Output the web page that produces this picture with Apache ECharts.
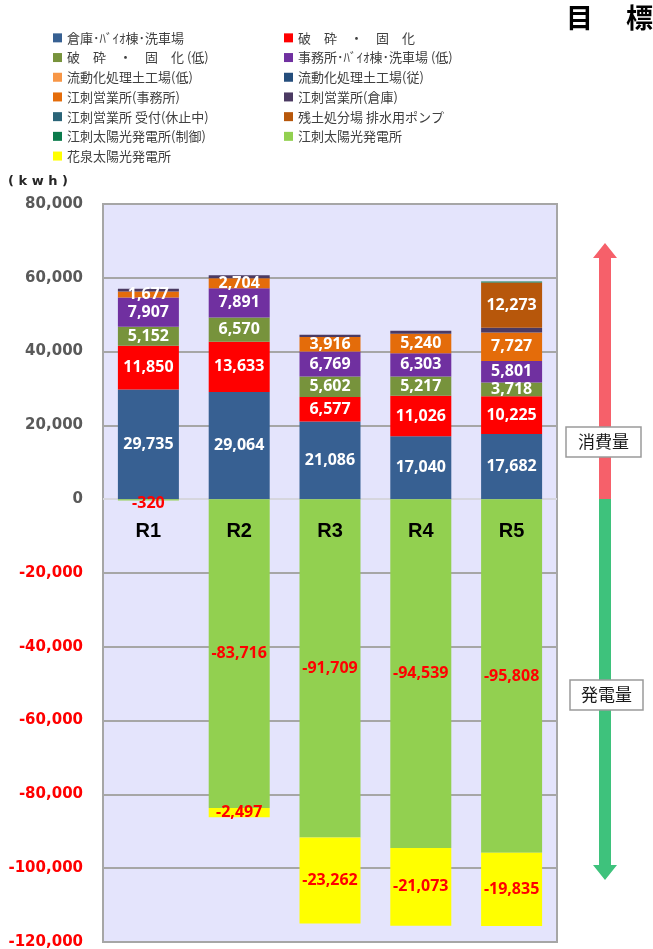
<!DOCTYPE html>
<html>
<head>
<meta charset="utf-8">
<script src="https://cdn.jsdelivr.net/npm/echarts@6/dist/echarts.min.js"></script>
<style>
  html, body { margin: 0; padding: 0; background: #fff; }
  #chart { width: 653px; height: 949px; }
</style>
</head>
<body>
<div id="chart"></div>
<script>
// 年度
var categories = ['R1', 'R2', 'R3', 'R4', 'R5'];

// 系列名 (凡例の順)
var seriesNames = [
  '倉庫･ﾊﾞｲｵ棟･洗車場', '破　砕　・　固　化',
  '破　砕　・　固　化 (低)', '事務所･ﾊﾞｲｵ棟･洗車場 (低)',
  '流動化処理土工場(低)', '流動化処理土工場(従)',
  '江刺営業所(事務所)', '江刺営業所(倉庫)',
  '江刺営業所 受付(休止中)', '残土処分場 排水用ポンプ',
  '江刺太陽光発電所(制御)', '江刺太陽光発電所',
  '花泉太陽光発電所'
];

// 消費量 (kwh)
var souko      = [29735, 29064, 21086, 17040, 17682];
var hasai      = [11850, 13633, 6577, 11026, 10225];
var hasaiLow   = [5152, 6570, 5602, 5217, 3718];
var jimushoLow = [7907, 7891, 6769, 6303, 5801];
var ryudoLow   = [0, 0, 0, 0, 0];
var ryudoJu    = [0, 0, 0, 0, 0];
var esashiJim  = [1677, 2704, 3916, 5240, 7727];
var esashiSou  = [700, 800, 650, 850, 1300];
var uketsuke   = [0, 0, 0, 0, 0];
var pump       = [0, 0, 0, 0, 12273];
var seigyo     = [0, 0, 0, 0, 250];
// 発電量 (kwh)
var esashiPV   = [-320, -83716, -91709, -94539, -95808];
var hanaizumiPV = [0, -2497, -23262, -21073, -19835];

// y軸
var yMin = -120000, yMax = 80000, yStep = 20000;

var seriesData = [souko, hasai, hasaiLow, jimushoLow, ryudoLow, ryudoJu,
  esashiJim, esashiSou, uketsuke, pump, seigyo, esashiPV, hanaizumiPV];

var colors = ['#376092', '#ff0000', '#77933c', '#7030a0', '#f79646', '#254e7c',
  '#e46c0a', '#4b3a62', '#2a6478', '#b7570b', '#0b7b4c', '#92d050', '#ffff00'];

// ラベルを出す系列
var labelShow = [true, true, true, true, false, false, true, false, false, true, false, true, true];

var gridTop = 204, gridBottom = 942;

var myChart = echarts.init(document.getElementById('chart'));

var series = [];
for (var i = 0; i < seriesData.length; i++) {
  var neg = i >= 11;
  // 小さい値のラベルは棒の下にずらす
  var items = seriesData[i].map(function(v) {
    if (v < 0 && v > -1000) return { value: v, label: { offset: [0, 4] } };
    return v;
  });
  series.push({
    name: seriesNames[i],
    type: 'bar',
    stack: 'total',
    barWidth: 61,
    data: items,
    itemStyle: { color: colors[i] },
    label: {
      show: labelShow[i],
      position: 'inside',
      color: neg ? '#ff0000' : '#ffffff',
      fontFamily: 'Noto Sans',
      fontWeight: 'bold',
      fontSize: 16,
      formatter: function(p) {
        if (!p.value) return '';
        return p.value.toLocaleString('en-US');
      }
    }
  });
}

var leftNames = [], rightNames = [];
for (var k = 0; k < seriesNames.length; k++) {
  if (k % 2 == 0) leftNames.push(seriesNames[k]); else rightNames.push(seriesNames[k]);
}

var legendText = {
  color: '#404040',
  fontSize: 13,
  fontFamily: 'Noto Sans CJK JP',
  lineHeight: 19.7
};

// ゼロ線の位置 (カテゴリ軸ラベル用)
var zeroOffset = (gridBottom - gridTop) * (0 - yMin) / (yMax - yMin);

// 目盛線の色 (0 の線だけ薄く)
var splitColors = [];
for (var t = yMin; t <= yMax; t += yStep) {
  splitColors.push(t == 0 ? '#d6d6de' : '#a6a6a6');
}

var option = {
  animation: false,
  backgroundColor: '#ffffff',
  legend: [
    {
      data: leftNames, orient: 'vertical', left: 48, top: 23,
      itemWidth: 9, itemHeight: 9, itemGap: 0, icon: 'rect',
      textStyle: legendText, selectedMode: false
    },
    {
      data: rightNames, orient: 'vertical', left: 279, top: 23,
      itemWidth: 9, itemHeight: 9, itemGap: 0, icon: 'rect',
      textStyle: legendText, selectedMode: false
    }
  ],
  grid: {
    left: 103, right: 96, top: gridTop, bottom: 949 - gridBottom,
    outerBoundsMode: 'none',
    containLabel: false,
    show: true,
    backgroundColor: '#e4e4fc',
    borderColor: '#a6a6a6',
    borderWidth: 2
  },
  xAxis: {
    type: 'category',
    data: categories,
    z: 10,
    position: 'bottom',
    offset: -zeroOffset,
    axisLine: { show: false, onZero: false },
    axisTick: { show: false },
    axisLabel: {
      margin: 22,
      color: '#000000',
      fontFamily: 'Liberation Sans',
      fontWeight: 'bold',
      fontSize: 20
    }
  },
  yAxis: {
    type: 'value',
    min: yMin,
    max: yMax,
    interval: yStep,
    axisLine: { show: false },
    axisTick: { show: false },
    splitLine: { lineStyle: { color: splitColors, width: 2 } },
    axisLabel: {
      margin: 20,
      fontFamily: 'DejaVu Sans',
      fontWeight: 'bold',
      fontSize: 15,
      formatter: function(v) { return v.toLocaleString('en-US'); },
      color: function(v) { return v < 0 ? '#ff0000' : '#595959'; }
    }
  },
  graphic: [
    { type: 'text', left: 8, top: 175,
      style: { text: '( k w h )', fontSize: 13, fontWeight: 'bold', fill: '#262626', fontFamily: 'DejaVu Sans' } },
    { type: 'text', left: 566, top: 4,
      style: { text: '目', fontSize: 27, fontWeight: 'bold', fill: '#000', fontFamily: 'Noto Sans CJK JP' } },
    { type: 'text', left: 626, top: 4,
      style: { text: '標', fontSize: 27, fontWeight: 'bold', fill: '#000', fontFamily: 'Noto Sans CJK JP' } },
    // 矢印 (消費量 / 発電量)
    { type: 'polygon', shape: { points: [[605, 243], [617, 258], [611, 258], [611, 499], [599, 499], [599, 258], [593, 258]] },
      style: { fill: '#f6606a' } },
    { type: 'polygon', shape: { points: [[599, 499], [611, 499], [611, 865], [617, 865], [605, 880], [593, 865], [599, 865]] },
      style: { fill: '#3ec27c' } },
    { type: 'rect', shape: { x: 566, y: 427, width: 75, height: 30 },
      style: { fill: '#fff', stroke: '#9a9a9a', lineWidth: 1.5 } },
    { type: 'text', x: 603.5, y: 442,
      style: { text: '消費量', fontSize: 17, fill: '#1a1a1a', align: 'center', verticalAlign: 'middle', fontFamily: 'Noto Sans CJK JP' } },
    { type: 'rect', shape: { x: 570, y: 680, width: 73, height: 30 },
      style: { fill: '#fff', stroke: '#9a9a9a', lineWidth: 1.5 } },
    { type: 'text', x: 606.5, y: 695,
      style: { text: '発電量', fontSize: 17, fill: '#1a1a1a', align: 'center', verticalAlign: 'middle', fontFamily: 'Noto Sans CJK JP' } }
  ],
  series: series
};

myChart.setOption(option);
</script>
</body>
</html>
